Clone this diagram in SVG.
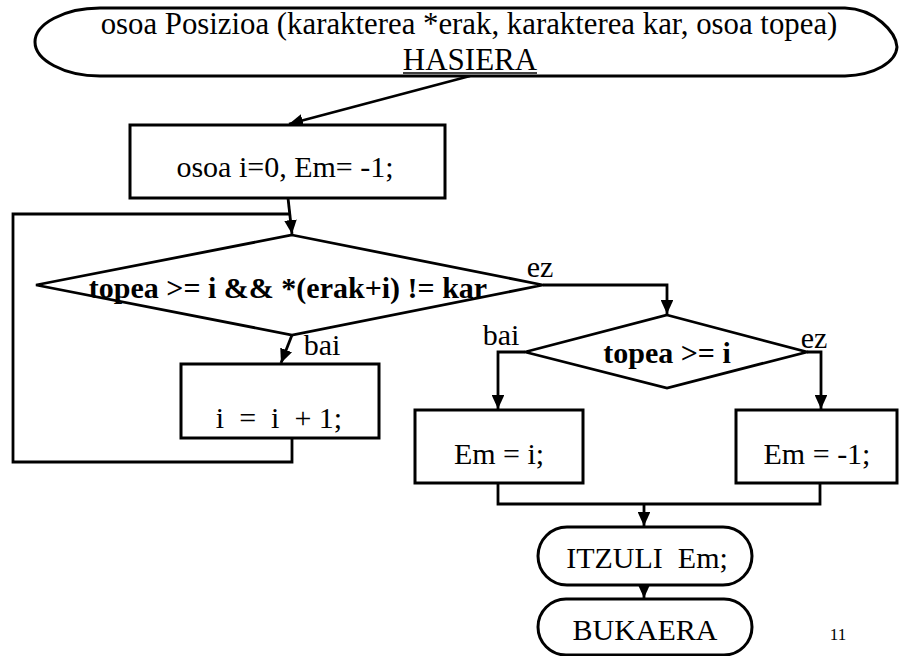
<svg xmlns="http://www.w3.org/2000/svg" width="899" height="656" viewBox="0 0 899 656">
<defs>
<style>
.t{font-family:"Liberation Serif","Times New Roman",serif;font-size:30px;fill:#000;text-anchor:middle;white-space:pre}
.b{font-weight:bold}
.shape{fill:#fff;stroke:#000;stroke-width:3}
.dia{fill:#fff;stroke:#000;stroke-width:2.8}
.con{fill:none;stroke:#000;stroke-width:2.8}
</style>
<marker id="ah" viewBox="0 0 10 10" refX="10" refY="5" markerWidth="5" markerHeight="4.5" markerUnits="strokeWidth" orient="auto" preserveAspectRatio="none">
<path d="M0,0 L10,5 L0,10 Z" fill="#000"/>
</marker>
</defs>
<rect width="899" height="656" fill="#fff"/>

<g id="connectors">
<line class="con" x1="470" y1="76" x2="289" y2="124" marker-end="url(#ah)"/>
<line class="con" x1="288" y1="198" x2="292" y2="234" marker-end="url(#ah)"/>
<polyline class="con" points="290,214 13,214 13,462 292,462 292,438"/>
<line class="con" x1="292" y1="335" x2="281" y2="363" marker-end="url(#ah)"/>
<polyline class="con" points="543,285 667,285 667,314" marker-end="url(#ah)"/>
<polyline class="con" points="525,352 498,352 498,409" marker-end="url(#ah)"/>
<polyline class="con" points="807,352 821,352 821,409" marker-end="url(#ah)"/>
<polyline class="con" points="498,483 498,504 820,504 820,483"/>
<line class="con" x1="644" y1="504" x2="644" y2="526" marker-end="url(#ah)"/>
<line class="con" x1="644" y1="585" x2="644" y2="598" marker-end="url(#ah)"/>
</g>

<g id="start">
<path class="shape" d="M100,8 L845,8 C875,9 896,32 897,47 C896,62 875,75 845,76 L100,76 C64,76 35,60 35,42 C35,24 64,8 100,8 Z"/>
<text class="t" x="469" y="34" style="font-size:30.8px">osoa Posizioa (karakterea *erak, karakterea kar, osoa topea)</text>
<text class="t" x="470" y="70" style="font-size:31px">HASIERA</text>
<line x1="403" y1="73" x2="537" y2="73" stroke="#000" stroke-width="1.5"/>
</g>

<g id="init">
<rect class="shape" x="130" y="125" width="315" height="73"/>
<text class="t" x="285" y="177">osoa i=0, Em= -1;</text>
</g>

<g id="cond1">
<polygon class="dia" points="292,235 543,285 292,335 36,285"/>
<text class="t b" x="288" y="298">topea &gt;= i &amp;&amp; *(erak+i) != kar</text>
<text class="t" x="540" y="277">ez</text>
<text class="t" x="322" y="355">bai</text>
</g>

<g id="incr">
<rect class="shape" x="181" y="364" width="198" height="74"/>
<text class="t" x="279" y="428" xml:space="preserve">i  =  i  + 1;</text>
</g>

<g id="cond2">
<polygon class="dia" points="667,315 807,352 667,388 525,352"/>
<text class="t b" x="667" y="363">topea &gt;= i</text>
<text class="t" x="501" y="345">bai</text>
<text class="t" x="814" y="348">ez</text>
</g>

<g id="emi">
<rect class="shape" x="415" y="410" width="168" height="73"/>
<text class="t" x="499" y="464">Em = i;</text>
</g>

<g id="emneg">
<rect class="shape" x="736" y="410" width="161" height="73"/>
<text class="t" x="817" y="464">Em = -1;</text>
</g>

<g id="return">
<rect class="shape" x="538" y="527" width="214" height="58" rx="29" ry="29"/>
<text class="t" x="647" y="568" xml:space="preserve">ITZULI  Em;</text>
</g>

<g id="end">
<rect class="shape" x="538" y="599" width="214" height="56" rx="28" ry="28"/>
<text class="t" x="645" y="640">BUKAERA</text>
</g>

<text class="t" x="838" y="640" style="font-size:17px">11</text>
</svg>
